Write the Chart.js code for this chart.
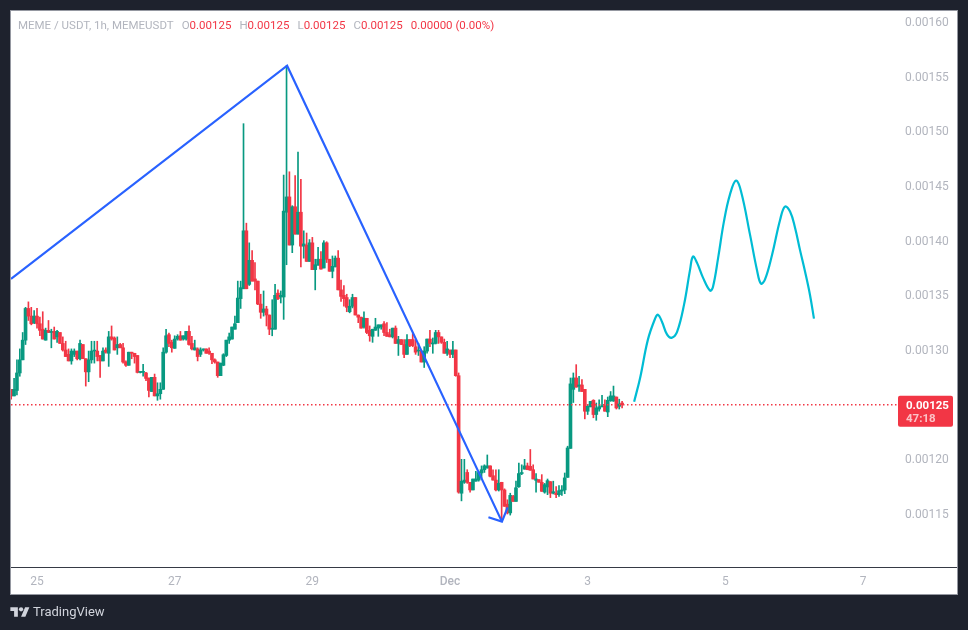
<!DOCTYPE html>
<html><head><meta charset="utf-8">
<style>
html,body{margin:0;padding:0;background:#1e222d;width:968px;height:630px;overflow:hidden}
#c{position:absolute;left:0;top:0}
#hdr{position:absolute;left:18px;top:18px;font:11.5px Roboto,sans-serif;line-height:14px;color:#b2b5be;white-space:nowrap}
#hdr b{font-weight:400;color:#f23645}
#hdr i{font-style:normal;margin-left:8px}
#brand{position:absolute;left:33px;top:603px;font:13px Roboto,sans-serif;line-height:18px;color:#d1d4dc}
#logo{position:absolute;left:10px;top:605px}
</style></head><body>
<canvas id="c" width="968" height="630"></canvas>
<div id="hdr">MEME / USDT, 1h, MEMEUSDT<i>O<b>0.00125</b></i><i>H<b>0.00125</b></i><i>L<b>0.00125</b></i><i>C<b>0.00125</b></i><i><b>0.00000 (0.00%)</b></i></div>
<svg id="logo" width="20" height="15" viewBox="0 0 36 28"><path fill="#d1d4dc" d="M14 22H7V11H0V4h14v18zM28 22h-8l7.5-18h8L28 22z"/><circle fill="#d1d4dc" cx="20" cy="8" r="4"/></svg>
<div id="brand">TradingView</div>
<script src="https://cdn.jsdelivr.net/npm/chart.js@4"></script>
<script>
// Prices below are in units of 0.00001 USDT; hours count from 25 Nov 00:00.
const unit = 1e-5;
const firstHour = -9;
const opens = [
126.4,125.8,126.3,127.9,129.1,130.9,133.8,133.1,132.5,133.1,
132.4,131.9,130.9,131.8,131.6,131.7,131.2,131.6,130.6,130.0,
129.6,129.0,129.6,129.9,129.2,130.5,129.2,128.0,129.1,129.9,
129.9,129.5,129.0,130.0,129.7,131.2,131.1,130.2,130.5,130.2,
128.9,128.6,129.8,129.7,129.5,127.95,127.95,127.9,127.44,126.2,
127.5,125.8,126.0,126.4,129.8,131.4,130.7,130.15,131.0,131.3,
131.0,131.0,131.7,130.6,130.0,130.1,129.6,130.0,130.1,129.9,
129.7,129.1,128.9,127.65,128.6,129.5,130.9,131.0,131.9,132.5,
134.7,135.6,140.9,136.0,138.2,136.5,136.3,134.2,133.45,133.75,
133.2,131.9,131.9,135.2,134.85,134.85,142.6,144.0,139.6,143.1,
140.6,142.6,139.5,139.6,138.1,139.8,137.35,137.75,138.3,137.5,
139.8,138.3,137.2,137.6,138.4,135.5,135.0,134.8,133.5,134.0,
134.8,133.2,133.0,132.1,132.9,131.8,131.25,131.8,132.0,132.1,
132.4,131.6,131.4,131.2,132.0,130.6,130.95,130.5,129.6,130.95,
130.95,130.3,129.9,129.9,128.9,129.9,131.0,130.55,130.6,131.6,
131.2,130.7,129.7,130.0,129.6,130.0,127.65,116.9,117.9,118.8,
117.9,117.2,118.0,118.1,118.75,119.05,119.2,119.4,118.5,118.1,
117.2,117.9,117.2,115.9,115.1,116.6,116.15,117.5,118.7,119.1,
119.4,119.36,119.05,118.08,118.14,117.9,117.0,117.47,117.96,116.9,
116.9,116.77,117.1,117.2,118.35,121.0,126.4,127.44,126.68,126.8,
126.4,124.4,124.8,125.4,124.1,124.6,124.8,124.9,124.33,125.37,
125.33,125.7,124.85,125.15];
const highs = [
126.4,127.4,129.1,130.1,131.6,133.9,134.4,133.9,133.6,133.8,
133.0,133.5,132.0,132.7,131.9,132.1,131.8,131.6,131.2,130.8,
130.1,130.1,130.1,129.9,130.9,130.5,129.2,129.9,130.8,130.8,
130.8,129.5,130.2,130.2,131.7,132.2,131.2,131.2,130.6,130.6,
129.0,129.8,129.8,129.7,129.5,128.0,128.7,127.95,127.44,127.5,
127.8,127.0,127.0,130.2,131.9,131.55,130.9,131.3,131.4,131.7,
131.3,131.7,132.2,131.25,130.9,130.2,130.2,130.1,130.1,130.2,
129.7,129.2,128.9,128.8,129.66,130.9,131.55,132.1,133.1,136.3,
136.3,150.7,141.6,139.8,139.1,138.0,136.3,135.1,135.4,134.0,
133.2,134.6,136.0,135.5,135.4,146.0,156.0,146.3,143.2,145.95,
148.1,145.6,140.9,140.7,140.1,140.3,138.3,139.4,139.0,140.0,
139.9,138.3,138.6,138.6,139.1,136.4,135.9,135.1,134.6,135.1,
134.8,133.2,133.0,133.5,132.9,132.2,131.9,132.9,132.3,132.3,
132.6,132.5,131.9,132.0,132.2,131.25,130.95,130.95,131.4,130.95,
131.5,130.95,130.6,129.9,130.3,131.0,131.8,131.1,131.8,131.8,
131.2,131.0,130.8,130.0,130.8,130.0,127.9,120.0,120.0,119.05,
117.9,118.2,118.9,118.9,119.4,119.5,120.4,119.4,119.05,119.05,
119.05,117.9,117.3,116.3,116.9,116.7,118.0,119.66,119.5,120.0,
119.66,120.9,119.5,118.7,118.14,118.6,117.8,118.2,117.96,118.0,
117.5,117.6,117.6,118.75,121.2,127.44,127.9,128.66,127.6,127.3,
126.4,125.0,125.3,125.45,125.15,125.45,125.85,125.45,125.7,126.2,
126.7,125.7,125.5,125.3];
const lows = [
125.5,125.8,125.9,127.6,129.1,130.5,132.7,132.3,132.4,132.0,
131.3,131.0,130.9,131.6,130.2,131.0,130.7,130.6,129.9,129.4,
129.0,128.7,129.4,129.1,129.1,129.2,126.7,127.1,128.8,128.8,
129.0,127.5,129.0,129.7,128.5,130.9,130.0,129.6,130.2,128.8,
128.5,128.6,129.2,128.8,127.9,127.9,127.6,127.2,125.7,126.2,
125.8,125.4,125.5,126.4,129.7,130.3,129.8,130.15,130.9,130.9,
130.9,130.9,130.45,130.0,130.0,129.0,129.4,129.9,129.7,129.6,
128.75,128.8,127.5,127.65,128.56,129.4,130.6,131.0,131.9,132.5,
133.8,135.6,135.6,135.9,136.3,135.5,134.15,132.9,133.1,132.2,
131.4,131.3,131.9,134.6,134.3,132.8,137.8,139.6,138.9,140.6,
140.6,137.6,138.4,138.1,138.1,137.35,135.5,137.75,137.4,137.5,
138.0,137.2,136.6,137.6,135.5,134.45,134.0,133.5,133.4,133.85,
133.2,132.5,132.0,132.0,131.5,130.8,130.7,131.8,131.25,131.9,
131.3,131.25,131.2,131.1,130.6,129.5,130.5,129.3,129.6,130.3,
130.3,129.6,129.5,128.9,128.4,129.7,130.3,129.7,130.55,130.6,
130.6,129.7,129.5,129.3,129.3,127.6,116.9,116.2,117.8,117.8,
117.0,117.2,118.0,118.0,118.3,118.8,119.2,118.4,118.1,117.1,
117.1,114.3,115.7,115.0,114.9,116.15,116.15,117.44,118.6,119.1,
119.05,119.0,118.2,117.0,117.9,117.07,116.9,116.77,116.5,116.83,
116.5,116.6,116.7,116.86,118.35,121.0,125.2,126.6,126.2,126.2,
123.7,124.1,124.8,123.8,123.57,124.4,124.8,124.4,123.9,125.3,
125.3,124.6,124.6,124.7];
const closes = [
125.8,126.4,127.9,129.1,130.9,133.8,133.1,132.4,133.1,132.4,
131.8,131.0,131.8,131.6,131.7,131.0,131.7,130.6,130.0,129.4,
129.0,129.9,129.9,129.2,130.6,129.2,128.0,129.1,129.9,129.9,
129.4,129.0,129.9,129.8,131.2,131.0,130.0,130.5,130.2,128.9,
128.6,129.8,129.7,129.4,127.95,128.0,128.0,127.4,126.3,127.5,
125.8,126.0,126.4,129.8,131.3,130.6,130.2,131.0,131.25,130.9,
131.3,131.7,130.5,130.1,130.2,129.4,130.0,130.1,129.7,129.7,
129.1,128.9,127.65,128.8,129.57,130.9,131.2,132.1,132.4,134.75,
135.7,140.9,135.6,138.2,136.3,136.3,134.2,133.45,133.75,133.2,
131.9,131.95,135.0,134.7,135.0,142.7,144.0,139.6,143.1,140.6,
142.6,139.5,139.7,138.1,139.8,137.35,137.8,138.3,137.4,139.8,
138.3,137.2,137.65,138.4,135.5,134.9,134.7,133.9,134.0,134.8,
133.2,133.0,132.0,132.9,131.6,131.3,131.9,132.1,132.3,132.3,
131.6,131.25,131.2,132.0,130.6,130.95,130.5,129.6,130.95,130.4,
130.4,129.8,130.0,128.9,129.9,131.0,130.6,130.6,131.6,131.2,
130.7,129.7,130.1,129.6,130.0,127.65,117.0,118.0,118.1,117.9,
117.2,118.2,118.2,118.8,119.05,119.4,119.4,118.45,118.1,117.2,
117.8,117.2,115.7,115.1,116.7,116.15,117.4,118.7,118.75,119.4,
119.05,119.0,118.2,118.2,117.9,117.07,117.68,118.05,116.9,117.04,
116.77,117.13,117.2,118.3,121.04,126.9,127.44,126.6,126.8,126.2,
124.4,124.85,125.3,124.1,124.7,124.8,124.9,124.4,125.4,125.8,
125.8,124.7,125.06,125.0];

const trendHours = [-9.07,87.2,162.1];
const trendPrices = [136.5,156.0,114.3];
const arrowHours = [157.4,162.1,164.1];
const arrowPrices = [114.7,114.3,115.6];
const sketchHours = [208.2,210.3,213.0,215.5,216.5,217.9,219.7,221.4,223.2,225.6,227.7,228.7,230.1,232.2,234.7,235.7,237.5,239.5,241.6,243.7,245.5,248.6,251.0,252.4,253.8,256.3,259.1,260.8,262.6,264.3,266.0,267.8,269.5,270.9];
const sketchPrices = [125.27,127.47,130.95,132.87,133.23,132.59,131.40,131.13,131.68,134.15,137.35,138.54,137.99,136.62,135.43,135.79,138.45,141.74,144.21,145.49,144.48,140.55,137.35,136.07,136.43,138.72,141.92,143.11,142.65,141.19,139.18,137.16,135.06,132.87];
const lastPrice = 125;
const countdown = '47:18';
const priceTicks = [115,120,130,135,140,145,150,155,160];
const hourTicks = [0,48,96,144,192,240,288];
const hourLabels = ['25','27','29','Dec','3','5','7'];

const GREEN='#089981', RED='#f23645', BLUE='#2962ff', CYAN='#00bcd4', GREY='#b2b5be';
const xMin=-9.07, xMax=300.2;
const px = v => v*unit;
const hours = opens.map((_,i)=>firstHour+i);
const colors = opens.map((o,i)=>closes[i]>=o?GREEN:RED);
const pts = (xs,ys)=>xs.map((x,i)=>({x,y:px(ys[i])}));

const paneBg = { id:'paneBg', beforeDraw(ch){
  const g=ch.ctx; g.save();
  g.fillStyle='#ffffff'; g.fillRect(10,10,948,585);
  g.strokeStyle='#9598a1'; g.lineWidth=1; g.strokeRect(10.5,10.5,947,584);
  g.strokeStyle='#363a45'; g.beginPath(); g.moveTo(899,567.5); g.lineTo(957,567.5); g.stroke();
  g.restore();
}};
const priceTag = { id:'priceTag', afterDraw(ch){
  const g=ch.ctx, y=ch.scales.y.getPixelForValue(px(lastPrice));
  g.save();
  g.fillStyle=RED; g.beginPath(); g.roundRect(898,y-9,55,31,2); g.fill();
  g.textBaseline='middle'; g.textAlign='left';
  g.fillStyle='#ffffff'; g.font='bold 11.5px Roboto,sans-serif';
  g.fillText(px(lastPrice).toFixed(5),906,y+1);
  g.fillStyle='rgba(255,255,255,0.7)'; g.font='bold 11.5px Roboto,sans-serif';
  g.fillText(countdown,906,y+14);
  g.restore();
}};

new Chart(document.getElementById('c'),{
  type:'bar',
  data:{datasets:[
    {type:'line',data:pts(trendHours,trendPrices),borderColor:BLUE,borderWidth:2.2,pointRadius:0,tension:0,order:0},
    {type:'line',data:pts(arrowHours,arrowPrices),borderColor:BLUE,borderWidth:2.2,pointRadius:0,tension:0,order:0},
    {type:'line',data:pts(sketchHours,sketchPrices),borderColor:CYAN,borderWidth:2.2,pointRadius:0,tension:0.4,order:0},
    {type:'line',data:pts([xMin,xMax],[lastPrice,lastPrice]),borderColor:RED,borderWidth:1.5,borderDash:[1.5,2.5],pointRadius:0,order:1},
    {type:'bar',grouped:false,data:hours.map((x,i)=>({x,y:[px(opens[i]),px(closes[i])]})),backgroundColor:colors,barThickness:3,minBarLength:1,order:2},
    {type:'bar',grouped:false,data:hours.map((x,i)=>({x,y:[px(lows[i]),px(highs[i])]})),backgroundColor:colors,barThickness:1,order:3}
  ]},
  options:{
    responsive:false,animation:false,devicePixelRatio:1,
    layout:{padding:{left:11,top:11,right:11,bottom:36}},
    plugins:{legend:{display:false},tooltip:{enabled:false},title:{display:false}},
    scales:{
      x:{type:'linear',min:xMin,max:xMax,offset:false,
        grid:{display:false,drawTicks:false},
        border:{display:true,color:'#363a45',width:1},
        afterBuildTicks(s){s.ticks=hourTicks.map(value=>({value}));},
        afterFit(s){s.height=27;s.paddingLeft=0;s.paddingRight=0;},
        ticks:{autoSkip:false,maxRotation:0,padding:8,color:GREY,
          font:c=>({family:'Roboto,sans-serif',size:12,weight:c.tick&&c.tick.value===144?'500':'normal'}),
          callback:v=>hourLabels[hourTicks.indexOf(v)]}
      },
      y:{type:'linear',position:'right',min:0.00110152,max:0.00161006,
        grid:{display:false,drawTicks:false},
        border:{display:false},
        afterBuildTicks(s){s.ticks=priceTicks.map(v=>({value:px(v)}));},
        afterFit(s){s.width=59;s.paddingTop=0;s.paddingBottom=0;},
        ticks:{autoSkip:false,padding:7,labelOffset:1,color:GREY,font:{family:'Roboto,sans-serif',size:12},
          callback:v=>v.toFixed(5)}
      }
    }
  },
  plugins:[paneBg,priceTag]
});
</script>
</body></html>
